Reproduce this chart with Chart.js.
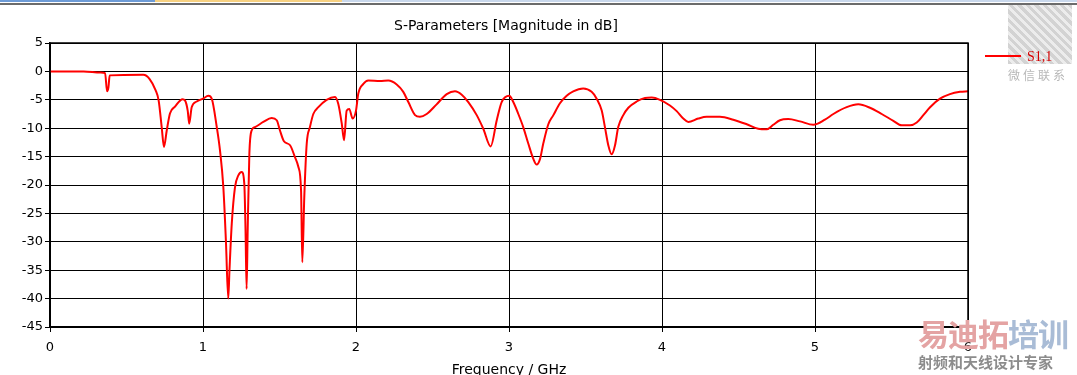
<!DOCTYPE html>
<html>
<head>
<meta charset="utf-8">
<script src="https://cdn.jsdelivr.net/npm/chart.js@4"></script>
<style>
  html, body { margin: 0; padding: 0; background: #fff; overflow: hidden; }
  #wrap { position: relative; width: 1077px; height: 375px; }
  #sparam { position: absolute; left: 0; top: 0; z-index: 2; }
  #topbar { position: absolute; left: 0; top: 0; width: 1077px; height: 5px; z-index: 3; }
  .qr { position: absolute; left: 1008px; top: 4px; width: 64px; height: 60px; z-index: 1;
        background: repeating-linear-gradient(45deg, #c4c4c4 0 3px, #e6e6e6 3px 6px); opacity: 0.75; }
  .wm { position: absolute; font-family: "Noto Sans CJK SC", sans-serif; white-space: nowrap; z-index: 3; }
</style>
</head>
<body>
<div id="wrap">
  <div class="qr"></div>
  <canvas id="sparam" width="1077" height="375"></canvas>
  <div id="topbar">
    <div style="position:absolute;left:0;top:0;width:155px;height:2px;background:#6d9bd6"></div>
    <div style="position:absolute;left:155px;top:0;width:187px;height:2px;background:#f7d182"></div>
    <div style="position:absolute;left:342px;top:0;width:735px;height:2px;background:#c9d8ec"></div>
    <div style="position:absolute;left:0;top:3px;width:1077px;height:2px;background:#6b6b6b"></div>
  </div>
  <div class="wm" style="left:1008px;top:66px;font-size:12px;color:#b8b8b8;letter-spacing:3px">微信联系</div>
  <div class="wm" style="left:918px;top:310px;font-size:31px;font-weight:bold;letter-spacing:-1px"><span style="color:#e4a3a3">易迪拓</span><span style="color:#a9bcd6">培训</span></div>
  <div class="wm" style="left:918px;top:351px;font-size:15px;font-weight:bold;color:#8c8c8c">射频和天线设计专家</div>
</div>
<script>
// frequency in GHz and S11 magnitude in dB
const freq = [0, 0.22, 0.33, 0.36, 0.373, 0.382, 0.39, 0.61, 0.65, 0.69,
  0.71, 0.73, 0.745, 0.763, 0.784, 0.817, 0.867, 0.882, 0.90, 0.91,
  0.926, 0.959, 1.0, 1.035, 1.057, 1.09, 1.111, 1.133, 1.15, 1.165,
  1.173, 1.188, 1.209, 1.231, 1.253, 1.27, 1.278, 1.285, 1.292, 1.303,
  1.318, 1.34, 1.394, 1.449, 1.482, 1.503, 1.529, 1.569, 1.601, 1.623,
  1.641, 1.649, 1.662, 1.678, 1.699, 1.721, 1.754, 1.808, 1.863, 1.884,
  1.907, 1.922, 1.939, 1.956, 1.978, 2.0, 2.015, 2.048, 2.08, 2.157,
  2.211, 2.266, 2.309, 2.342, 2.386, 2.418, 2.462, 2.527, 2.593, 2.647,
  2.691, 2.734, 2.789, 2.832, 2.88, 2.92, 2.952, 3.002, 3.028, 3.061,
  3.093, 3.126, 3.159, 3.181, 3.203, 3.224, 3.257, 3.29, 3.333, 3.377,
  3.42, 3.485, 3.54, 3.573, 3.606, 3.627, 3.649, 3.671, 3.693, 3.714,
  3.747, 3.78, 3.834, 3.889, 3.933, 3.987, 4.052, 4.096, 4.139, 4.172,
  4.237, 4.292, 4.379, 4.466, 4.554, 4.629, 4.684, 4.727, 4.771, 4.825,
  4.902, 4.989, 5.065, 5.12, 5.207, 5.283, 5.359, 5.436, 5.512, 5.567,
  5.621, 5.665, 5.708, 5.752, 5.817, 5.882, 5.948, 6.0];
const s11 = [0, 0, -0.2, -0.3, -3.5, -2.8, -0.7, -0.6, -1.3, -3.3,
  -5.1, -9.8, -13.3, -10.4, -7.4, -6.2, -4.9, -5.1, -6.9, -9.2,
  -6.3, -5.3, -4.8, -4.3, -4.8, -9.8, -13.9, -20.4, -30, -40.0,
  -35, -26.8, -20.4, -18.3, -17.7, -19.8, -28, -38.3, -28, -14.5,
  -10.4, -9.8, -8.9, -8.2, -8.6, -10.4, -12.3, -13.0, -15.1, -16.8,
  -21, -33.6, -22.1, -12.7, -9.8, -7.5, -6.3, -5.0, -4.5, -5.7,
  -9.2, -12.1, -6.9, -6.6, -8.3, -6.9, -3.9, -2.2, -1.6, -1.7,
  -1.6, -2.3, -3.6, -5.4, -7.7, -8.0, -7.5, -5.8, -4.0, -3.5,
  -4.1, -5.4, -7.7, -10.1, -13.2, -8.6, -5.4, -4.3, -5.4, -7.5,
  -9.8, -12.7, -15.4, -16.4, -15.4, -12.7, -9.3, -7.7, -5.6, -4.3,
  -3.5, -3.0, -3.6, -4.8, -6.9, -9.8, -13.0, -14.6, -13.0, -9.8,
  -7.7, -6.4, -5.3, -4.7, -4.6, -5.0, -6.0, -7.0, -8.3, -8.9,
  -8.3, -8.0, -8.0, -8.5, -9.3, -10.1, -10.2, -9.4, -8.6, -8.4,
  -8.8, -9.4, -8.5, -7.5, -6.3, -5.8, -6.4, -7.5, -8.7, -9.5,
  -9.5, -9.0, -7.7, -6.3, -4.8, -4.0, -3.6, -3.5];
const seriesName = 'S1,1';
const chartTitle = 'S-Parameters [Magnitude in dB]';
const xTitle = 'Frequency / GHz';

const points = freq.map((f, i) => ({ x: f, y: s11[i] }));

const tickFont = { family: 'DejaVu Sans', size: 13 };

// frame, title, axis label and legend drawn on top of the chart
const decor = {
  id: 'decor',
  afterDraw(chart) {
    const ctx = chart.ctx;
    const a = chart.chartArea;
    ctx.save();
    ctx.strokeStyle = '#000';
    ctx.lineWidth = 1.5;
    ctx.strokeRect(a.left, a.top, a.right - a.left, a.bottom - a.top);

    ctx.fillStyle = '#000';
    ctx.font = '14px "DejaVu Sans"';
    ctx.textAlign = 'center';
    ctx.textBaseline = 'alphabetic';
    ctx.fillText(chartTitle, (a.left + a.right) / 2 - 3, 30);
    ctx.fillText(xTitle, (a.left + a.right) / 2, 374);

    ctx.strokeStyle = '#ff0000';
    ctx.lineWidth = 2;
    ctx.beginPath();
    ctx.moveTo(985, 56);
    ctx.lineTo(1021, 56);
    ctx.stroke();
    ctx.fillStyle = '#d40000';
    ctx.font = '14px "Liberation Serif"';
    ctx.textAlign = 'left';
    ctx.fillText(seriesName, 1027, 61);
    ctx.restore();
  }
};

new Chart(document.getElementById('sparam'), {
  type: 'scatter',
  data: {
    datasets: [{
      label: seriesName,
      data: points,
      showLine: true,
      borderColor: '#ff0000',
      borderWidth: 2,
      pointRadius: 0,
      cubicInterpolationMode: 'monotone'
    }]
  },
  options: {
    responsive: false,
    animation: false,
    layout: { padding: { top: 43, right: 109, left: 0, bottom: 0 } },
    plugins: { legend: { display: false }, title: { display: false }, tooltip: { enabled: false } },
    scales: {
      x: {
        type: 'linear',
        min: 0, max: 6,
        afterFit(scale) { scale.height = 48; },
        ticks: { stepSize: 1, color: '#000', font: tickFont, padding: 8, maxRotation: 0 },
        grid: { color: '#000', borderDash: [3, 3], tickLength: 5, tickBorderDash: [], tickColor: '#000' },
        border: { display: true, color: '#000', width: 1.5 }
      },
      y: {
        min: -45, max: 5,
        afterFit(scale) { scale.width = 50; },
        ticks: { stepSize: 5, color: '#000', font: tickFont, padding: 2 },
        grid: { color: '#000', borderDash: [3, 3], tickLength: 5, tickBorderDash: [], tickColor: '#000' },
        border: { display: true, color: '#000', width: 1.5 }
      }
    }
  },
  plugins: [decor]
});
</script>
</body>
</html>
